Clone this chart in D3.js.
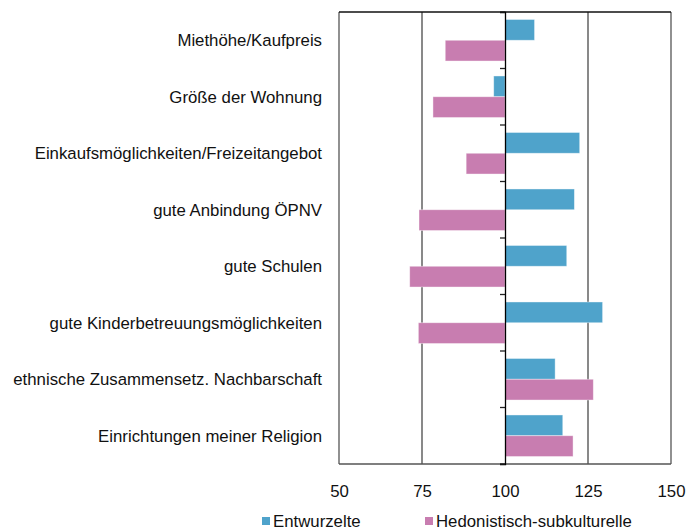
<!DOCTYPE html>
<html>
<head>
<meta charset="utf-8">
<script src="https://cdn.jsdelivr.net/npm/d3@7"></script>
<style>
  body { margin: 0; background: #fff; }
  svg { display: block; font-family: "Liberation Sans", Arial, sans-serif; }
</style>
</head>
<body>
<svg id="chart" width="687" height="531"></svg>
<script>
// Index values (100 = average) per housing criterion
const categories = [
  "Miethöhe/Kaufpreis",
  "Größe der Wohnung",
  "Einkaufsmöglichkeiten/Freizeitangebot",
  "gute Anbindung ÖPNV",
  "gute Schulen",
  "gute Kinderbetreuungsmöglichkeiten",
  "ethnische Zusammensetz. Nachbarschaft",
  "Einrichtungen meiner Religion"
];
const seriesNames = ["Entwurzelte", "Hedonistisch-subkulturelle"];
const entwurzelte = [108.9, 96.6, 122.5, 120.9, 118.6, 129.4, 115.1, 117.4];
const hedonistisch = [82.0, 78.3, 88.3, 74.1, 71.3, 73.9, 126.6, 120.5];
const xTicks = [50, 75, 100, 125, 150];
const colors = ["#4fa3cb", "#c87db0"];

const svg = d3.select("#chart");
const margin = { left: 339, right: 16, top: 12, bottom: 67 };
const W = 687, H = 531;
const FS = 16.8;
const x = d3.scaleLinear().domain([50, 150]).range([margin.left, W - margin.right]);
const y = d3.scaleBand().domain(categories).range([margin.top, H - margin.bottom]).paddingInner(0).paddingOuter(0);
const inner = d3.scaleBand().domain(seriesNames).range([0, y.bandwidth()]).paddingInner(0).paddingOuter(0.36);

const series = [entwurzelte, hedonistisch];

// Vertical gridlines
svg.append("g").selectAll("line")
  .data(xTicks.filter(t => t !== 100))
  .join("line")
  .attr("x1", d => x(d)).attr("x2", d => x(d))
  .attr("y1", margin.top).attr("y2", H - margin.bottom)
  .attr("stroke", d => (d === 50 || d === 150) ? "#555" : "#4a4a4a")
  .attr("stroke-width", 1.3);

// Plot frame top and bottom
svg.append("line")
  .attr("x1", x(50)).attr("x2", x(150))
  .attr("y1", margin.top).attr("y2", margin.top)
  .attr("stroke", "#111").attr("stroke-width", 1.3);
svg.append("line")
  .attr("x1", x(50)).attr("x2", x(150))
  .attr("y1", H - margin.bottom).attr("y2", H - margin.bottom)
  .attr("stroke", "#555").attr("stroke-width", 1.3);

// Bars diverging from 100
series.forEach((vals, si) => {
  svg.append("g").selectAll("rect")
    .data(vals)
    .join("rect")
    .attr("x", d => x(Math.min(100, d)))
    .attr("width", d => Math.abs(x(d) - x(100)))
    .attr("y", (d, i) => y(categories[i]) + inner(seriesNames[si]))
    .attr("height", inner.bandwidth())
    .attr("fill", colors[si])
    .attr("stroke", "#fff")
    .attr("stroke-opacity", 0.5)
    .attr("stroke-width", 0.8);
});

// Category axis at 100
const yAxis = d3.axisLeft(y).tickSize(5).tickFormat("");
const yAxisG = svg.append("g")
  .attr("transform", `translate(${x(100)},0)`)
  .call(yAxis);
yAxisG.select(".domain").attr("stroke", "#000").attr("stroke-width", 1.3);
yAxisG.selectAll(".tick line").attr("stroke", "#222").attr("stroke-width", 1.3)
  .attr("transform", `translate(0,${y.bandwidth() / 2})`);
// extra tick at the very top
yAxisG.append("line").attr("x1", -5).attr("x2", 0)
  .attr("y1", margin.top).attr("y2", margin.top)
  .attr("stroke", "#222").attr("stroke-width", 1.3);

// Category labels
svg.append("g").selectAll("text")
  .data(categories)
  .join("text")
  .attr("x", 322)
  .attr("y", d => y(d) + y.bandwidth() / 2)
  .attr("dy", "0.35em")
  .attr("text-anchor", "end")
  .attr("font-size", FS)
  .attr("fill", "#111")
  .text(d => d);

// Value axis labels
const xAxis = d3.axisBottom(x).tickValues(xTicks).tickSize(0).tickPadding(0);
const xAxisG = svg.append("g")
  .attr("transform", `translate(0,${H - margin.bottom + 21})`)
  .call(xAxis);
xAxisG.select(".domain").remove();
xAxisG.selectAll("text")
  .attr("font-size", FS)
  .attr("font-family", "Liberation Sans, Arial, sans-serif")
  .attr("fill", "#111");

// Legend
const legendX = [262, 425];
const legend = svg.append("g").selectAll("g")
  .data(seriesNames)
  .join("g")
  .attr("transform", (d, i) => `translate(${legendX[i]},521)`);
legend.append("rect")
  .attr("x", 0).attr("y", -4).attr("width", 8).attr("height", 8)
  .attr("fill", (d, i) => colors[i]);
legend.append("text")
  .attr("x", 11).attr("dy", "0.35em")
  .attr("font-size", FS)
  .attr("fill", "#111")
  .text(d => d);
</script>
</body>
</html>
